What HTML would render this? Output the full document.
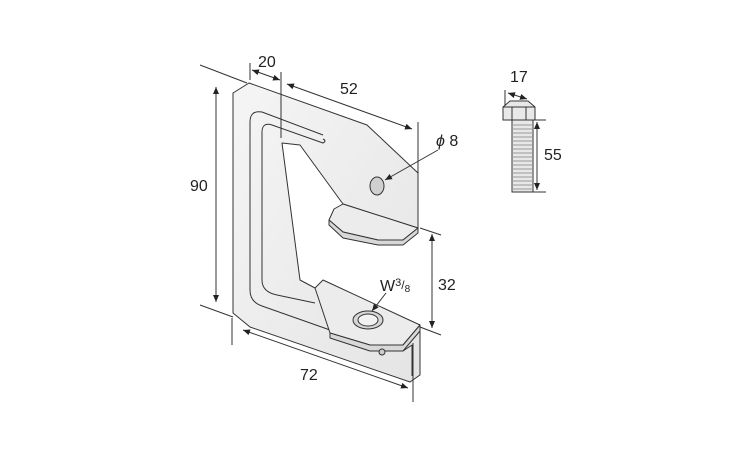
<!DOCTYPE html>
<html><head><style>
html,body{margin:0;padding:0;background:#fff;}
svg{display:block;font-family:"Liberation Sans",sans-serif;}
</style></head><body>
<svg width="750" height="450" viewBox="0 0 750 450" xmlns="http://www.w3.org/2000/svg">
<defs>
<marker id="a" markerWidth="8" markerHeight="8" refX="7" refY="4" orient="auto" markerUnits="userSpaceOnUse"><path d="M0,1 L7,4 L0,7 Z" fill="#222"/></marker>
<marker id="b" markerWidth="8" markerHeight="8" refX="1" refY="4" orient="auto" markerUnits="userSpaceOnUse"><path d="M8,1 L1,4 L8,7 Z" fill="#222"/></marker>
<linearGradient id="g" x1="0" y1="0" x2="1" y2="1"><stop offset="0" stop-color="#f5f5f5"/><stop offset="1" stop-color="#e4e4e4"/></linearGradient>
</defs>
<g stroke="#333" stroke-width="1" stroke-linejoin="round" fill="url(#g)">
<path d="M233,93 L249,83 L367,125 L418,173 L418,228 L343,204 L300,145 L282,143 L300,280 L315,288 L420,325 L420,375 L410,382 L250,327 L233,313 Z"/>
<path d="M323,135 L262,112 Q250,110 250,122 L250,290 Q250,302 262,306 L330,330" fill="none"/>
<path d="M323,139 Q327,141 323,143 L272,125 Q262,122 262,132 L262,280 Q262,292 277,295 L315,303" fill="none"/>
<path d="M343,204 L334,209 L329,220 L343,232 L378,240 L403,240 L418,228 Z" fill="#ececec"/>
<path d="M329,220 L329,225 L343,238 L378,245 L403,245 L418,233 L418,228 L403,240 L378,240 L343,232 Z" fill="#d8d8d8"/>
<path d="M323,280 L315,288 L330,333 L370,345 L403,345 L420,325 Z" fill="#ececec"/>
<path d="M330,333 L330,338 L370,351 L403,351 L420,331 L420,325 L403,345 L370,345 Z" fill="#d8d8d8"/>
<path d="M403,351 L412,345 L412,376" fill="none"/>
<ellipse cx="377" cy="186" rx="7" ry="9" fill="#d0d0d0"/>
<ellipse cx="368" cy="320" rx="15" ry="9" fill="#d6d6d6"/>
<ellipse cx="368" cy="320" rx="10" ry="6" fill="#f2f2f2"/>
<circle cx="382" cy="352" r="3" fill="#ccc"/>
</g>
<g stroke="#333" stroke-width="1" fill="#e8e8e8">
<path d="M503,107 L510,101 L528,101 L535,107 L535,120 L503,120 Z"/>
<path d="M503,107 L535,107 M512,107 L512,120 M526,107 L526,120" fill="none"/>
<rect x="512" y="120" width="21" height="72"/>
<path d="M512,125 H533 M512,129 H533 M512,133 H533 M512,137 H533 M512,141 H533 M512,145 H533 M512,149 H533 M512,153 H533 M512,157 H533 M512,161 H533 M512,165 H533 M512,169 H533 M512,173 H533 M512,177 H533 M512,181 H533 M512,185 H533 M512,189 H533" stroke="#999" fill="none"/>
</g>
<g stroke="#333" stroke-width="1" fill="none">
<line x1="200" y1="65" x2="247" y2="83"/>
<line x1="200" y1="305" x2="233" y2="317"/>
<line x1="216" y1="87" x2="216" y2="302" marker-start="url(#b)" marker-end="url(#a)"/>
<line x1="250" y1="63" x2="250" y2="80"/>
<line x1="281" y1="72" x2="281" y2="138"/>
<line x1="252" y1="70" x2="280" y2="80" marker-start="url(#b)" marker-end="url(#a)"/>
<line x1="287" y1="84" x2="412" y2="129" marker-start="url(#b)" marker-end="url(#a)"/>
<line x1="418" y1="122" x2="418" y2="175"/>
<line x1="438" y1="150" x2="385" y2="180" marker-end="url(#a)"/>
<line x1="420" y1="228" x2="441" y2="235"/>
<line x1="420" y1="327" x2="441" y2="335"/>
<line x1="432" y1="234" x2="432" y2="328" marker-start="url(#b)" marker-end="url(#a)"/>
<line x1="386" y1="293" x2="372" y2="311" marker-end="url(#a)"/>
<line x1="232" y1="318" x2="232" y2="345"/>
<line x1="413" y1="343" x2="413" y2="402"/>
<line x1="243" y1="330" x2="408" y2="388" marker-start="url(#b)" marker-end="url(#a)"/>
<line x1="505" y1="90" x2="505" y2="106"/>
<line x1="508" y1="93" x2="527" y2="99" marker-start="url(#b)" marker-end="url(#a)"/>
<line x1="533" y1="120" x2="546" y2="120"/>
<line x1="533" y1="192" x2="546" y2="192"/>
<line x1="537" y1="122" x2="537" y2="190" marker-start="url(#b)" marker-end="url(#a)"/>
</g>
<g fill="#222" font-size="16">
<text x="190" y="191">90</text>
<text x="258" y="67">20</text>
<text x="340" y="94">52</text>
<text x="436" y="146"><tspan font-style="italic">ϕ</tspan> 8</text>
<text x="438" y="290">32</text>
<text x="380" y="291">W<tspan font-size="11" dy="-5">3</tspan><tspan font-size="12" dy="3">/</tspan><tspan font-size="10" dy="3">8</tspan></text>
<text x="300" y="380">72</text>
<text x="510" y="82">17</text>
<text x="544" y="160">55</text>
</g>
</svg>
</body></html>
